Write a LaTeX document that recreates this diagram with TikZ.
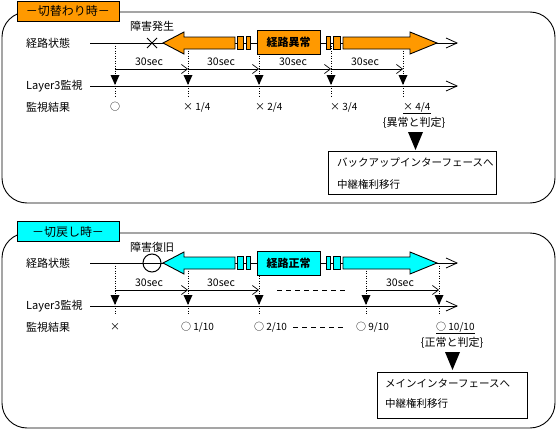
\documentclass[tikz,border=0pt]{standalone}
\usepackage{fontspec}
\setmainfont{Noto Sans CJK JP}
\usetikzlibrary{arrows.meta}
\definecolor{orng}{HTML}{FF9900}
\definecolor{cyn}{HTML}{00FFFF}
\begin{document}
\begin{tikzpicture}[x=1pt,y=-1pt,
  every node/.style={inner sep=0pt},
  panel/.style={draw, line width=0.9pt, rounded corners=25pt},
  titlebox/.style={draw, line width=0.9pt, minimum width=102pt, minimum height=20pt, font=\fontsize{12}{14}\selectfont},
  rowlbl/.style={anchor=west, font=\fontsize{11}{13}\selectfont},
  smalltxt/.style={font=\fontsize{10}{12}\selectfont},
  sectxt/.style={font=\fontsize{10.5}{12}\selectfont},
  judgetxt/.style={font=\fontsize{11}{13}\selectfont},
  boxtxt/.style={anchor=west, font=\fontsize{10.5}{12}\selectfont},
  statebox/.style={draw, line width=0.9pt, minimum width=63pt, minimum height=24pt, font=\bfseries\fontsize{11}{13}\selectfont},
  resultbox/.style={draw, line width=0.9pt},
  mainline/.style={line width=1pt, -{Straight Barb[length=11pt,width=10pt,line width=0.8pt]}},
  secarrow/.style={line width=0.8pt, -{Straight Barb[length=6pt,width=9pt,line width=0.7pt]}},
  tickline/.style={line width=0.7pt, dash pattern=on 1pt off 1.5pt},
  dashline/.style={line width=0.8pt, dash pattern=on 5pt off 4pt},
  shapeline/.style={line width=0.9pt},
]
\useasboundingbox (0,0) rectangle (558,431);

% ================= TOP PANEL =================
\draw[panel] (2,12) rectangle (555,203);
\node[titlebox, fill=orng] (title1) at (68,11) {－切替わり時－};

\node[rowlbl] (ra1) at (26,43) {経路状態};
\node[rowlbl] (rb1) at (26,86) {Layer3監視};
\node[rowlbl] (rc1) at (26,107) {監視結果};

\foreach \i/\x in {1/115,2/188,3/259,4/331,5/403}{
  \coordinate (ka\i) at (\x,43);
  \coordinate (kb\i) at (\x,96);
  \coordinate (km\i) at (\x,69);
  \draw[tickline] (ka\i) -- (kb\i);
  \fill (\x-4.5,75) -- (\x+4.5,75) -- (\x,85) -- cycle;
}
\coordinate (sa1) at (90,43); \coordinate (ea1) at (458,43);
\coordinate (sb1) at (90,86); \coordinate (eb1) at (458,86);
\draw[mainline] (sa1) -- (ea1);
\draw[mainline] (sb1) -- (eb1);

% state arrows
\filldraw[shapeline, fill=orng] (163,43) -- (184,32) -- (184,37) -- (235,37) -- (235,49) -- (184,49) -- (184,54) -- cycle;
\filldraw[shapeline, fill=orng] (237,36) rectangle (243,49);
\filldraw[shapeline, fill=orng] (246,36) rectangle (250,49);
\filldraw[shapeline, fill=orng] (326,36) rectangle (330,49);
\filldraw[shapeline, fill=orng] (333,36) rectangle (340,49);
\filldraw[shapeline, fill=orng] (343,37) -- (410,37) -- (410,32) -- (437,43) -- (410,54) -- (410,49) -- (343,49) -- cycle;
\node[statebox, fill=orng] (st1) at (288.5,42) {経路異常};

\draw[line width=1pt] (147,38) -- (157,48) (147,48) -- (157,38);
\node[judgetxt] (ev1) at (152,26) {障害発生};

\draw[secarrow] (km1) -- (km2);
\draw[secarrow] (km2) -- (km3);
\draw[secarrow] (km3) -- (km4);
\draw[secarrow] (km4) -- (km5);
\node[sectxt] (s11) at (149,62) {30sec};
\node[sectxt] (s12) at (221,62) {30sec};
\node[sectxt] (s13) at (293,62) {30sec};
\node[sectxt] (s14) at (365,62) {30sec};

\node[smalltxt] (o10) at (115,107) {○};
\node[smalltxt, anchor=west] (o11) at (183,107) {× 1/4};
\node[smalltxt, anchor=west] (o12) at (255,107) {× 2/4};
\node[smalltxt, anchor=west] (o13) at (330,107) {× 3/4};
\node[smalltxt, anchor=west] (o14) at (403,107) {× 4/4};
\draw[line width=0.8pt] ([yshift=-1.5pt]o14.south west) -- ([yshift=-1.5pt]o14.south east);

\node[judgetxt] (j1) at (414,123) {\{異常と判定\}};
\fill (408,132) -- (423,132) -- (415.5,150) -- cycle;
\draw[resultbox] (328,151) rectangle (496,194);
\node[boxtxt] (b11) at (337,163) {バックアップインターフェースへ};
\node[boxtxt] (b12) at (337,184) {中継権利移行};

% ================= BOTTOM PANEL =================
\draw[panel] (2,233) rectangle (555,428);
\node[titlebox, fill=cyn] (title2) at (68,231.5) {－切戻し時－};

\node[rowlbl] (ra2) at (26,263) {経路状態};
\node[rowlbl] (rb2) at (26,306) {Layer3監視};
\node[rowlbl] (rc2) at (26,327) {監視結果};

\foreach \i/\x in {1/115,2/188,3/259,4/366,5/439}{
  \coordinate (la\i) at (\x,263);
  \coordinate (lb\i) at (\x,315);
  \coordinate (lm\i) at (\x,290);
  \draw[tickline] (la\i) -- (lb\i);
  \fill (\x-4.5,295) -- (\x+4.5,295) -- (\x,305) -- cycle;
}
\coordinate (sa2) at (90,263); \coordinate (ea2) at (458,263);
\coordinate (sb2) at (90,306); \coordinate (eb2) at (458,306);
\draw[mainline] (sa2) -- (ea2);
\draw[mainline] (sb2) -- (eb2);

\filldraw[shapeline, fill=cyn] (163,263) -- (184,252) -- (184,257) -- (235,257) -- (235,269) -- (184,269) -- (184,274) -- cycle;
\filldraw[shapeline, fill=cyn] (237,256) rectangle (243,269);
\filldraw[shapeline, fill=cyn] (246,256) rectangle (250,269);
\filldraw[shapeline, fill=cyn] (326,256) rectangle (330,269);
\filldraw[shapeline, fill=cyn] (333,256) rectangle (340,269);
\filldraw[shapeline, fill=cyn] (343,257) -- (410,257) -- (410,252) -- (437,263) -- (410,274) -- (410,269) -- (343,269) -- cycle;
\node[statebox, fill=cyn] (st2) at (288.5,263) {経路正常};

\draw[line width=1pt] (152,263) circle (9pt);
\node[judgetxt] (ev2) at (152,247) {障害復旧};

\draw[secarrow] (lm1) -- (lm2);
\draw[secarrow] (lm2) -- (lm3);
\coordinate (d1a) at (277,290); \coordinate (d1b) at (348,290);
\draw[dashline] (d1a) -- (d1b);
\draw[secarrow] (lm4) -- (lm5);
\node[sectxt] (s21) at (149,283) {30sec};
\node[sectxt] (s22) at (221,283) {30sec};
\node[sectxt] (s23) at (400,283) {30sec};

\node[smalltxt] (o20) at (115,327) {×};
\node[smalltxt, anchor=west] (o21) at (181,327) {○ 1/10};
\node[smalltxt, anchor=west] (o22) at (254,327) {○ 2/10};
\coordinate (d2a) at (293,327); \coordinate (d2b) at (343,327);
\draw[dashline] (d2a) -- (d2b);
\node[smalltxt, anchor=west] (o23) at (356,327) {○ 9/10};
\node[smalltxt, anchor=west] (o24) at (436,327) {○ 10/10};
\draw[line width=0.8pt] ([yshift=-1.5pt]o24.south west) -- ([yshift=-1.5pt]o24.south east);

\node[judgetxt] (j2) at (452,343) {\{正常と判定\}};
\fill (445,352) -- (460,352) -- (452.5,370) -- cycle;
\draw[resultbox] (377,372) rectangle (527,418);
\node[boxtxt] (b21) at (385,383) {メインインターフェースへ};
\node[boxtxt] (b22) at (385,403) {中継権利移行};
\end{tikzpicture}
\end{document}
